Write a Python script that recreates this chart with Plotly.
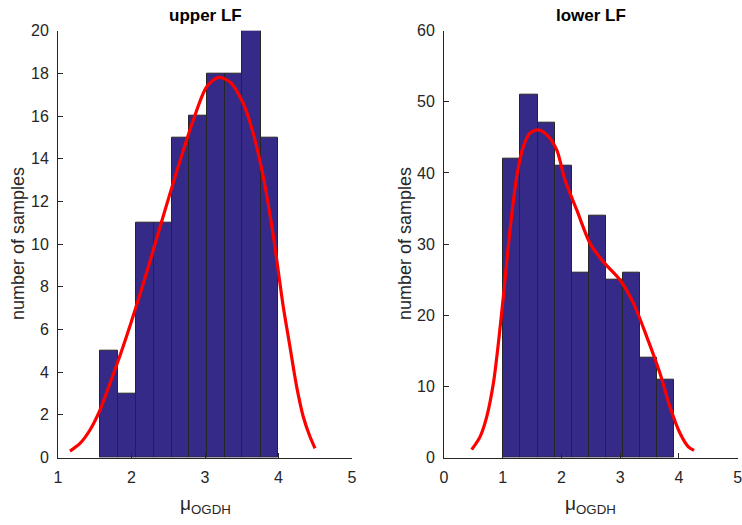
import plotly.graph_objects as go

# ---- data ----
upper_edges = [1.576, 1.820, 2.061, 2.306, 2.547, 2.786, 3.027, 3.268, 3.507, 3.758, 3.997]
upper_counts = [5, 3, 11, 11, 15, 16, 18, 18, 20, 15]
upper_fit_x = [1.163, 1.299, 1.435, 1.571, 1.707, 1.844, 1.98, 2.116, 2.252, 2.388, 2.615, 2.84,
               3.023, 3.181, 3.34, 3.521, 3.657, 3.793, 3.929, 4.065, 4.156, 4.247, 4.337, 4.429, 4.497]
upper_fit_y = [0.30, 0.66, 1.29, 2.22, 3.47, 4.78, 6.17, 7.65, 9.2, 10.8, 13.4, 15.8,
               17.37, 17.81, 17.6, 16.59, 15.18, 13.15, 10.4, 7.06, 5.19, 3.32, 1.91, 0.97, 0.43]

lower_edges = [1.005, 1.300, 1.596, 1.885, 2.175, 2.464, 2.758, 3.048, 3.337, 3.627, 3.916]
lower_counts = [42, 51, 47, 41, 26, 34, 25, 26, 14, 11]
lower_fit_x = [0.471, 0.613, 0.727, 0.84, 0.925, 1.01, 1.124, 1.238, 1.35, 1.464, 1.606, 1.748,
               1.919, 2.06, 2.26, 2.486, 2.713, 2.997, 3.224, 3.451, 3.678, 3.848, 4.018, 4.16, 4.257]
lower_fit_y = [1.1, 2.9, 5.71, 10.4, 16.0, 22.6, 32.0, 39.5, 43.7, 45.6, 46.07, 45.4,
               43.25, 39.0, 34.8, 30.1, 27.5, 24.95, 21.7, 17.0, 11.8, 7.1, 3.4, 1.5, 1.0]

titles = ["upper LF", "lower LF"]
ylabel = "number of samples"
xlabel = "μ<sub>OGDH</sub>"

W, H = 742, 525
BAR_COLOR = "#352A87"
AX_COLOR = "#262626"
FONT = "Liberation Sans, Arial, Helvetica, sans-serif"

fig = go.Figure()

def add_panel(edges, counts, fx, fy, xa, ya):
    centers = [(a + b) / 2 for a, b in zip(edges[:-1], edges[1:])]
    widths = [b - a for a, b in zip(edges[:-1], edges[1:])]
    fig.add_trace(go.Bar(x=centers, y=counts, width=widths, xaxis=xa, yaxis=ya,
                         marker=dict(color=BAR_COLOR, line=dict(color="#262626", width=1)),
                         showlegend=False, hoverinfo="skip"))
    fig.add_trace(go.Scatter(x=fx, y=fy, xaxis=xa, yaxis=ya, mode="lines",
                             line=dict(color="#ff0000", width=3.2, shape="spline", smoothing=0.8),
                             showlegend=False, hoverinfo="skip"))

add_panel(upper_edges, upper_counts, upper_fit_x, upper_fit_y, "x", "y")
add_panel(lower_edges, lower_counts, lower_fit_x, lower_fit_y, "x2", "y2")

# axes geometry (pixels)
L1, R1 = 58, 352
L2, R2 = 444, 737.7
TOP, BOT = 30.7, 457.5

def ax_common(standoff):
    return dict(showline=True, linecolor=AX_COLOR, linewidth=1, ticks="inside", ticklen=5,
                tickcolor=AX_COLOR, tickwidth=1, showgrid=False, zeroline=False, automargin=False,
                ticklabelstandoff=standoff, ticklabeloverflow="allow",
                tickfont=dict(family=FONT, size=16, color=AX_COLOR), mirror=False, fixedrange=True)

ydom = [1 - BOT / H, 1 - TOP / H]
fig.update_layout(
    width=W, height=H,
    margin=dict(l=0, r=0, t=0, b=0, pad=0),
    paper_bgcolor="white", plot_bgcolor="white",
    bargap=0,
    xaxis=dict(domain=[L1 / W, R1 / W], range=[1, 5], tickvals=[1, 2, 3, 4, 5], anchor="y", **ax_common(5)),
    yaxis=dict(domain=ydom, range=[0, 20], tickvals=list(range(0, 21, 2)), anchor="x", **ax_common(5)),
    xaxis2=dict(domain=[L2 / W, R2 / W], range=[0, 5], tickvals=[0, 1, 2, 3, 4, 5], anchor="y2", **ax_common(5)),
    yaxis2=dict(domain=ydom, range=[0, 60], tickvals=list(range(0, 61, 10)), anchor="x2", **ax_common(5)),
)

annotations = []
for (l, r, t, ylx) in [(L1, R1, titles[0], 18), (L2, R2, titles[1], 405)]:
    cx = (l + r) / 2 / W
    annotations.append(dict(text="<b>%s</b>" % t, x=cx, y=1 - 16 / H, xref="paper", yref="paper",
                            showarrow=False, xanchor="center", yanchor="middle",
                            font=dict(family=FONT, size=17, color="black")))
    annotations.append(dict(text=xlabel, x=cx, y=1 - 505 / H, xref="paper", yref="paper",
                            showarrow=False, xanchor="center", yanchor="middle",
                            font=dict(family=FONT, size=19, color=AX_COLOR)))
    annotations.append(dict(text=ylabel, x=ylx / W, y=1 - ((TOP + BOT) / 2) / H, xref="paper", yref="paper",
                            showarrow=False, xanchor="center", yanchor="middle", textangle=-90,
                            font=dict(family=FONT, size=18, color=AX_COLOR)))
fig.update_layout(annotations=annotations)

fig.write_html("out.html")
